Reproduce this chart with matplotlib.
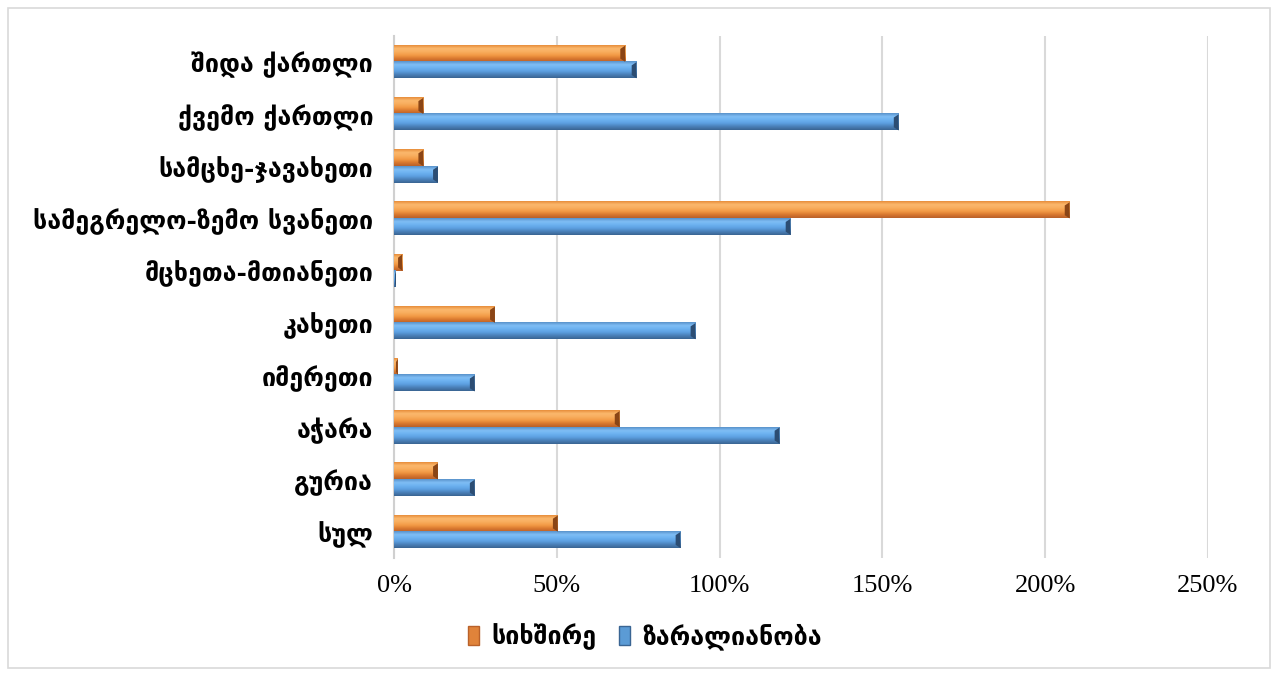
import numpy as np
import matplotlib.pyplot as plt
from matplotlib.colors import to_rgb
from matplotlib.patches import Patch, Rectangle, Polygon

regions = ['შიდა ქართლი', 'ქვემო ქართლი', 'სამცხე-ჯავახეთი',
           'სამეგრელო-ზემო სვანეთი', 'მცხეთა-მთიანეთი', 'კახეთი',
           'იმერეთი', 'აჭარა', 'გურია', 'სულ']
frequency = [71, 9, 9, 207.5, 2.5, 31, 1.2, 69.3, 13.5, 50.3]   # სიხშირე
loss_ratio = [74.5, 155, 13.5, 121.8, 0.6, 92.6, 24.8, 118.4, 24.8, 88]  # ზარალიანობა
series_names = ['სიხშირე', 'ზარალიანობა']
xticks = [0, 50, 100, 150, 200, 250]

geo_font = ['DejaVu Sans']
num_font = 'Liberation Serif'

# gradient stops bottom -> top
orange_stops = ['#b9612a', '#d9782f', '#f39a45', '#f8ad5e', '#fbb86d', '#e88e3c']
blue_stops = ['#3a6593', '#4a7fb8', '#5c9fe0', '#6cb1f0', '#7fbef5', '#5a93cc']


def make_grad(stops, n=40):
    cols = np.array([to_rgb(c) for c in stops])
    pos = np.linspace(0, 1, len(cols))
    t = np.linspace(0, 1, n)
    arr = np.stack([np.interp(t, pos, cols[:, k]) for k in range(3)], axis=1)
    return arr[:, None, :]


def draw_bar(ax, v, yc, h, stops, edge_dark):
    if v <= 0:
        return
    y0, y1 = yc - h / 2, yc + h / 2
    ax.imshow(make_grad(stops), extent=[0, v, y0, y1], origin='lower',
              aspect='auto', interpolation='bilinear', zorder=3)
    # bevelled right end
    w = min(1.5, v * 0.5)
    ax.add_patch(Polygon([[v - w, y0 + h * 0.2], [v, y0], [v, y1], [v - w, y1 - h * 0.2]],
                         closed=True, facecolor=edge_dark, edgecolor='none', zorder=4))


fig = plt.figure(figsize=(12.77, 6.73), dpi=100)
ax = fig.add_axes([394 / 1277, 1 - 558 / 673, (1208 - 394) / 1277, (558 - 36) / 673])

n = len(regions)
ypos = np.arange(n)[::-1]
h = 0.31
for i in range(n):
    draw_bar(ax, frequency[i], ypos[i] + 0.16, h, orange_stops, '#8a4516')
    draw_bar(ax, loss_ratio[i], ypos[i] - 0.155, h, blue_stops, '#2c4d73')

ax.set_xlim(0, 250)
ax.set_ylim(-0.5, n - 0.5)
ax.set_xticks(xticks)
ax.set_xticklabels([f'{t}%' for t in xticks], fontsize=19, family=num_font)
ax.set_yticks(ypos)
ax.set_yticklabels(regions, fontsize=18, family=geo_font, fontweight='bold')
ax.tick_params(axis='y', length=0, pad=15)
ax.tick_params(axis='x', length=0, pad=12)
ax.grid(axis='x', color='#d9d9d9', linewidth=1.5, zorder=0)
ax.set_axisbelow(True)
for s in ['top', 'right', 'bottom']:
    ax.spines[s].set_visible(False)
ax.spines['left'].set_color('#d0d0d0')
ax.spines['left'].set_linewidth(1.5)

handles = [Patch(facecolor='#e0833a', edgecolor='#b9612a'),
           Patch(facecolor='#5b9bd5', edgecolor='#3a6593')]
fig.legend(handles, series_names, loc='center', bbox_to_anchor=(645 / 1277, 1 - 637 / 673),
           ncol=2, frameon=False, prop={'family': geo_font, 'size': 18, 'weight': 'bold'},
           handlelength=0.45, handleheight=0.8, handletextpad=0.5, columnspacing=0.9)

fig.add_artist(Rectangle((8 / 1277, 5 / 673), 1262 / 1277, 660 / 673, transform=fig.transFigure,
                         fill=False, edgecolor='#d9d9d9', linewidth=1.2))

fig.savefig('out.png', dpi=100)
